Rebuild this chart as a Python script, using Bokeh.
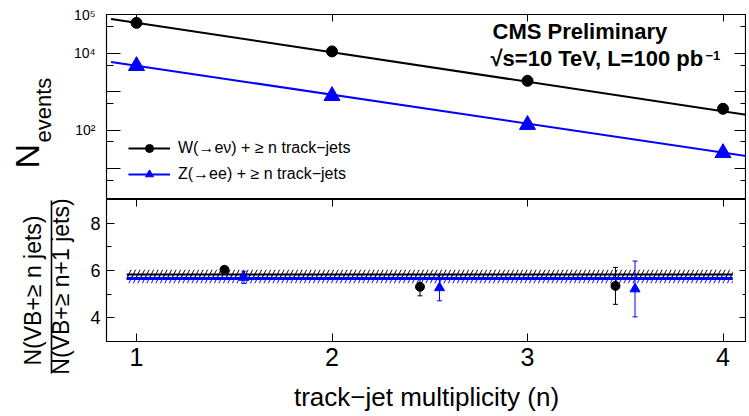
import numpy as np
from bokeh.plotting import figure
from bokeh.models import (ColumnDataSource, FixedTicker, LinearAxis, LogAxis, Label,
                          Legend, LegendItem, Whisker, TeeHead, CustomJSTickFormatter, Range1d)
from bokeh.layouts import column, row
from bokeh.embed import file_html
from bokeh.resources import INLINE

# ---------------- data ----------------
n_jets = [1, 2, 3, 4]
w_events = [62500, 11300, 1950, 365]
z_events = [4750, 790, 140, 26]

# exponential fits: N(n) = norm * ratio ** -(n - 1)
w_fit_norm = 62500
z_fit_norm = 4800
w_ratio_fit = 5.83
w_ratio_fit_err = 0.2
z_ratio_fit = 5.66
z_ratio_fit_err = 0.2
fit_x = [0.87, 4.2]
band_x = [0.95, 4.05]

ratio_x_w = [1.45, 2.45, 3.45]
ratio_w = [6.03, 5.31, 5.35]
ratio_w_err = [0.12, 0.38, 0.78]
ratio_x_z = [1.55, 2.55, 3.55]
ratio_z = [5.71, 5.27, 5.22]
ratio_z_err = [0.26, 0.55, 1.18]

x_ticks = [1, 2, 3, 4]
y_ticks_top = [10, 100, 1000, 10000, 100000]
y_tick_labels_top = ["", "10\u00b2", "", "10\u2074", "10\u2075"]
y_minor_top = [5, 50, 500, 5000, 50000]
y_ticks_bottom = [4, 6, 8]
y_minor_bottom = [3, 5, 7, 9]

w_label = "W(\u2192e\u03bd) + \u2265 n track\u2212jets"
z_label = "Z(\u2192ee) + \u2265 n track\u2212jets"
x_title = "track\u2212jet multiplicity (n)"
y_title_top = ("N", "events")
y_title_num = "N(VB+\u2265 n jets)"
y_title_den = "N(VB+\u2265 n+1 jets)"

FONT = "Liberation Sans"
BLUE = "#0000ff"
INK = "black"

# ---------------- geometry (page pixels) ----------------
FRAME_L, FRAME_R = 106, 746
FRAME_W = FRAME_R - FRAME_L
TOP_Y0, TOP_H, BOT_H = 14, 185, 142
LAB1_W, LAB2_W = 62, 82
X0 = 1 - (136 - FRAME_L) / 195.5
X1 = 1 + (FRAME_R - 136) / 195.5
Y_TOP0, Y_TOP1 = 1.6, 1.03e5
Y_BOT0, Y_BOT1 = 3, 9


def px_x(px):
    return float(X0 + (px - FRAME_L) * (X1 - X0) / FRAME_W)


def px_ytop(py):
    l1, l0 = np.log10(Y_TOP1), np.log10(Y_TOP0)
    return float(10 ** (l1 - (py - TOP_Y0) * (l1 - l0) / TOP_H))


blank = CustomJSTickFormatter(code="return '';")


def mirror_axis(cls, ticks, minor, tin, minor_in):
    return cls(ticker=FixedTicker(ticks=ticks, minor_ticks=minor), formatter=blank,
               major_label_text_font_size="1px", major_label_standoff=0,
               axis_line_color=None, major_tick_in=tin, major_tick_out=0,
               major_tick_line_color=INK, minor_tick_line_color=INK,
               minor_tick_in=minor_in, minor_tick_out=0)


def text_panel(w, y_top, y_bot):
    f = figure(frame_width=w, frame_height=y_bot - y_top,
               x_range=Range1d(0, w), y_range=Range1d(y_bot, y_top),
               x_axis_location=None, y_axis_location=None,
               output_backend="svg", toolbar_location=None,
               min_border_left=0, min_border_right=0, min_border_top=0, min_border_bottom=0)
    f.grid.visible = False
    f.outline_line_color = None
    return f


# ---------------- top panel ----------------
p1 = figure(frame_width=FRAME_W, frame_height=TOP_H,
            x_range=Range1d(X0, X1), y_range=Range1d(Y_TOP0, Y_TOP1),
            y_axis_type="log", output_backend="svg", toolbar_location=None,
            min_border_left=FRAME_L - LAB1_W, min_border_right=0,
            min_border_top=TOP_Y0, min_border_bottom=0)
p1.xaxis.visible = False
p1.grid.visible = False
p1.outline_line_color = INK
p1.outline_line_width = 1.2

ya = p1.yaxis[0]
ya.ticker = FixedTicker(ticks=y_ticks_top, minor_ticks=y_minor_top)
ya.formatter = CustomJSTickFormatter(args=dict(tvals=y_ticks_top, tlabels=y_tick_labels_top), code="""
const i = tvals.findIndex(t => Math.abs(Math.log10(t) - Math.log10(tick)) < 1e-6);
return i >= 0 ? tlabels[i] : "";
""")
ya.major_label_text_font = FONT
ya.major_label_text_font_size = "14px"
ya.major_label_text_color = INK
ya.major_label_standoff = 11
ya.axis_line_color = None
ya.major_tick_line_color = INK
ya.minor_tick_line_color = INK
ya.major_tick_in = 14
ya.major_tick_out = 0
ya.minor_tick_in = 7
ya.minor_tick_out = 0

p1.add_layout(mirror_axis(LogAxis, y_ticks_top, y_minor_top, 12, 6), "right")
p1.add_layout(mirror_axis(LinearAxis, x_ticks, [], 7, 0), "above")

fx = np.array(fit_x)
w_fit = w_fit_norm * w_ratio_fit ** -(fx - 1)
z_fit = z_fit_norm * z_ratio_fit ** -(fx - 1)
w_line = p1.line(fx, w_fit, line_color=INK, line_width=2)
z_line = p1.line(fx, z_fit, line_color=BLUE, line_width=2)
w_pts = p1.scatter(n_jets, w_events, marker="circle", size=11, color=INK)
z_pts = p1.scatter(n_jets, z_events, marker="triangle", size=16, color=BLUE)

legend = Legend(items=[LegendItem(label=w_label, renderers=[w_line, w_pts]),
                       LegendItem(label=z_label, renderers=[z_line, z_pts])],
                location=(22, 15), glyph_width=42, glyph_height=20, label_height=20,
                label_standoff=8, spacing=6, padding=0, margin=0,
                background_fill_alpha=0, border_line_alpha=0,
                label_text_font=FONT, label_text_font_size="16px", label_text_color=INK)
p1.add_layout(legend)

p1.add_layout(Label(x=px_x(492), y=px_ytop(43), text="CMS Preliminary", text_font=FONT,
                    text_font_size="22px", text_font_style="bold", text_color=INK))
p1.add_layout(Label(x=px_x(490), y=px_ytop(70), text="\u221as=10 TeV, L=100 pb", text_font=FONT,
                    text_font_size="22px", text_font_style="bold", text_color=INK))
p1.add_layout(Label(x=px_x(705), y=px_ytop(59), text="\u22121", text_font=FONT,
                    text_font_size="13px", text_font_style="bold", text_color=INK))

# left text panel for the top y title (data units = page pixels)
l1 = text_panel(LAB1_W, 0, TOP_Y0 + TOP_H)
l1.add_layout(Label(x=45, y=154, text=y_title_top[0], angle=np.pi / 2, text_font=FONT,
                    text_font_size="34px", text_color=INK))
l1.add_layout(Label(x=55, y=128, text=y_title_top[1], angle=np.pi / 2, text_font=FONT,
                    text_font_size="22px", text_color=INK))

# ---------------- bottom panel ----------------
p2 = figure(frame_width=FRAME_W, frame_height=BOT_H,
            x_range=p1.x_range, y_range=Range1d(Y_BOT0, Y_BOT1),
            output_backend="svg", toolbar_location=None,
            min_border_left=FRAME_L - LAB2_W, min_border_right=0, min_border_top=0,
            min_border_bottom=0)
p2.grid.visible = False
p2.outline_line_color = INK
p2.outline_line_width = 1.2

xa = p2.xaxis[0]
xa.ticker = FixedTicker(ticks=x_ticks, minor_ticks=[])
xa.axis_line_color = None
xa.major_tick_line_color = INK
xa.major_tick_in = 8
xa.major_tick_out = 0
xa.major_label_text_font = FONT
xa.major_label_text_font_size = "25px"
xa.major_label_text_color = INK
xa.major_label_standoff = 6
xa.axis_label = x_title
xa.axis_label_text_font = FONT
xa.axis_label_text_font_size = "26px"
xa.axis_label_text_font_style = "normal"
xa.axis_label_text_color = INK
xa.axis_label_standoff = 13

yb = p2.yaxis[0]
yb.ticker = FixedTicker(ticks=y_ticks_bottom, minor_ticks=y_minor_bottom)
yb.axis_line_color = None
yb.major_tick_line_color = INK
yb.minor_tick_line_color = INK
yb.major_tick_in = 8
yb.major_tick_out = 0
yb.minor_tick_in = 5
yb.minor_tick_out = 0
yb.major_label_text_font = FONT
yb.major_label_text_font_size = "18px"
yb.major_label_text_color = INK
yb.major_label_standoff = 6

p2.add_layout(mirror_axis(LinearAxis, y_ticks_bottom, y_minor_bottom, 7, 4), "right")
p2.add_layout(mirror_axis(LinearAxis, x_ticks, [], 7, 0), "above")

# hatched fit bands
p2.quad(left=[band_x[0]], right=[band_x[1]],
        bottom=[w_ratio_fit - w_ratio_fit_err], top=[w_ratio_fit + w_ratio_fit_err],
        fill_alpha=0, line_alpha=0, hatch_pattern="/", hatch_color=INK,
        hatch_scale=9, hatch_weight=1)
p2.quad(left=[band_x[0]], right=[band_x[1]],
        bottom=[z_ratio_fit - z_ratio_fit_err], top=[z_ratio_fit + z_ratio_fit_err],
        fill_alpha=0, line_alpha=0, hatch_pattern="/", hatch_color=BLUE,
        hatch_scale=9, hatch_weight=1)
p2.line(band_x, [w_ratio_fit, w_ratio_fit], line_color=INK, line_width=2)
p2.line(band_x, [z_ratio_fit, z_ratio_fit], line_color=BLUE, line_width=3)

src_w = ColumnDataSource(dict(x=ratio_x_w, y=ratio_w,
                              lo=[v - e for v, e in zip(ratio_w, ratio_w_err)],
                              hi=[v + e for v, e in zip(ratio_w, ratio_w_err)]))
src_z = ColumnDataSource(dict(x=ratio_x_z, y=ratio_z,
                              lo=[v - e for v, e in zip(ratio_z, ratio_z_err)],
                              hi=[v + e for v, e in zip(ratio_z, ratio_z_err)]))
p2.add_layout(Whisker(source=src_w, base="x", lower="lo", upper="hi", line_color=INK,
                      line_width=1,
                      upper_head=TeeHead(size=5, line_color=INK, line_width=1),
                      lower_head=TeeHead(size=5, line_color=INK, line_width=1)))
p2.add_layout(Whisker(source=src_z, base="x", lower="lo", upper="hi", line_color=BLUE,
                      line_width=1,
                      upper_head=TeeHead(size=5, line_color=BLUE, line_width=1),
                      lower_head=TeeHead(size=5, line_color=BLUE, line_width=1)))
p2.scatter("x", "y", source=src_w, marker="circle", size=9, color=INK)
p2.scatter("x", "y", source=src_z, marker="triangle", size=10, color=BLUE)

# left text panel for the fraction-style y title (data units = page pixels)
BOT_Y0 = TOP_Y0 + TOP_H
l2 = text_panel(LAB2_W, BOT_Y0, 416)
l2.add_layout(Label(x=45, y=290, text=y_title_num, angle=np.pi / 2,
                    text_align="center", text_font=FONT, text_font_size="23px", text_color=INK))
l2.segment(x0=[51], y0=[BOT_Y0 + 1], x1=[51], y1=[373], line_color=INK, line_width=1.6)
l2.add_layout(Label(x=73, y=286, text=y_title_den, angle=np.pi / 2,
                    text_align="center", text_font=FONT, text_font_size="23px", text_color=INK))

layout = column(row(l1, p1, spacing=0), row(l2, p2, spacing=0), spacing=0)
open("out.html", "w").write(file_html(layout, INLINE))
